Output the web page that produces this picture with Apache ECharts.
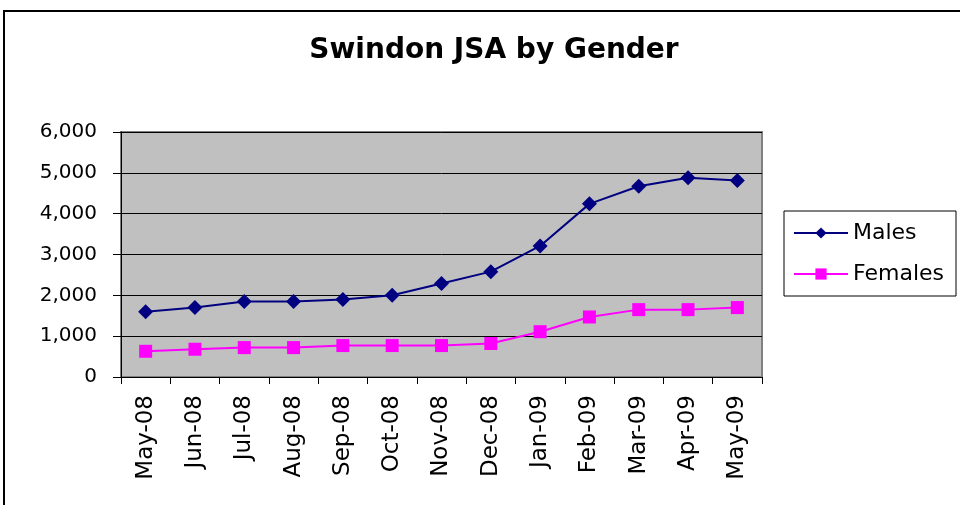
<!DOCTYPE html>
<html><head><meta charset="utf-8">
<script src="https://cdn.jsdelivr.net/npm/echarts@6/dist/echarts.min.js"></script>
<style>html,body{margin:0;padding:0;background:#fff}#c{width:960px;height:505px}</style>
</head><body><div id="c"></div>
<script>
const categories = ['May-08','Jun-08','Jul-08','Aug-08','Sep-08','Oct-08','Nov-08','Dec-08','Jan-09','Feb-09','Mar-09','Apr-09','May-09'];
const males = [1600,1700,1850,1850,1900,2000,2290,2580,3210,4240,4670,4880,4810];
const females = [630,680,720,720,770,770,770,820,1110,1470,1650,1650,1700];
const yTicks = [0,1000,2000,3000,4000,5000,6000];

const font = '"DejaVu Sans", "Liberation Sans", Arial, sans-serif';
const chart = echarts.init(document.getElementById('c'));
chart.setOption({
  animation:false,
  backgroundColor:'#fff',
  textStyle:{fontFamily:font},
  title:{text:'Swindon JSA by Gender',left:489,top:32,textAlign:'center',
    textStyle:{fontFamily:font,fontSize:28,fontWeight:'bold',color:'#000'}},
  graphic:[{type:'rect',shape:{x:4,y:11,width:1000,height:600},
    style:{fill:'none',stroke:'#000',lineWidth:2},silent:true}],
  grid:{left:121,top:132,right:198,bottom:128,show:true,backgroundColor:'#c0c0c0',
    borderColor:'#808080',borderWidth:2},
  legend:{orient:'vertical',left:784,top:211,
    borderColor:'#000',borderWidth:1,padding:[11,12,11,9],itemGap:19,
    itemWidth:54,itemHeight:14,
    textStyle:{fontFamily:font,fontSize:22,color:'#000'},
    data:['Males','Females']},
  xAxis:{type:'category',data:categories,boundaryGap:true,
    axisLine:{lineStyle:{color:'#000',width:1}},
    axisTick:{show:true,inside:false,length:7,lineStyle:{color:'#000'},alignWithLabel:false},
    axisLabel:{rotate:90,color:'#000',fontSize:23,fontFamily:font,margin:18,interval:0},
    splitLine:{show:false}},
  yAxis:{type:'value',min:0,max:6000,interval:1000,
    axisLine:{show:true,lineStyle:{color:'#000',width:1}},
    axisTick:{show:true,inside:false,length:8,lineStyle:{color:'#000'}},
    axisLabel:{color:'#000',fontSize:20,fontFamily:font,margin:24,
      formatter:v=>v.toLocaleString('en-US')},
    splitLine:{show:true,lineStyle:{color:'#000',width:1}}},
  series:[
    {name:'Males',type:'line',data:males,symbol:'diamond',symbolSize:15,
      lineStyle:{color:'#000080',width:2},itemStyle:{color:'#000080'}},
    {name:'Females',type:'line',data:females,symbol:'rect',symbolSize:13,
      lineStyle:{color:'#ff00ff',width:2},itemStyle:{color:'#ff00ff'}}
  ]
});
</script></body></html>
